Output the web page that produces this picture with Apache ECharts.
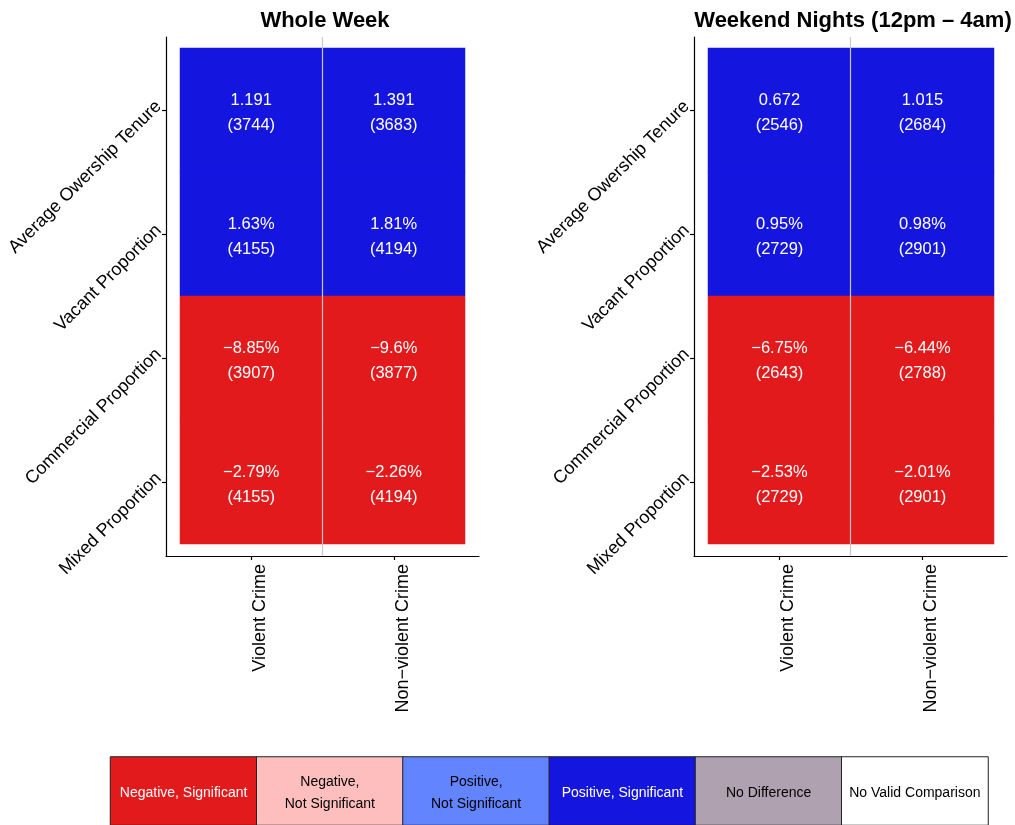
<!DOCTYPE html>
<html>
<head>
<meta charset="utf-8">
<title>Land use vs crime</title>
<script src="https://cdn.jsdelivr.net/npm/echarts@6/dist/echarts.min.js"></script>
<style>
html, body { margin: 0; padding: 0; background: #fff; }
#chart { width: 1015px; height: 825px; }
</style>
</head>
<body>
<div id="chart"></div>
<script>
var rowNames = ['Average Owership Tenure', 'Vacant Proportion', 'Commercial Proportion', 'Mixed Proportion'];
var colNames = ['Violent Crime', 'Non\u2212violent Crime'];
var panelTitles = ['Whole Week', 'Weekend Nights (12pm \u2013 4am)'];

// tile text per row: [violent, non-violent]
var weekEstimates = [['1.191', '1.391'], ['1.63%', '1.81%'], ['\u22128.85%', '\u22129.6%'], ['\u22122.79%', '\u22122.26%']];
var weekCounts = [[3744, 3683], [4155, 4194], [3907, 3877], [4155, 4194]];
var weekStatus = [[3, 3], [3, 3], [0, 0], [0, 0]];

var nightEstimates = [['0.672', '1.015'], ['0.95%', '0.98%'], ['\u22126.75%', '\u22126.44%'], ['\u22122.53%', '\u22122.01%']];
var nightCounts = [[2546, 2684], [2729, 2901], [2643, 2788], [2729, 2901]];
var nightStatus = [[3, 3], [3, 3], [0, 0], [0, 0]];

// status index -> legend entry
var statusNames = ['Negative, Significant', 'Negative,\nNot Significant', 'Positive,\nNot Significant',
  'Positive, Significant', 'No Difference', 'No Valid Comparison'];
var statusColors = ['#E31A1C', '#FFBEBE', '#6384FF', '#1515E0', '#B0A1B0', '#FFFFFF'];
var statusTextColors = ['#fff', '#000', '#000', '#fff', '#000', '#000'];

var font = 'Liberation Sans, Arial, sans-serif';

function tiles(est, counts, status) {
  var out = [];
  for (var r = 0; r < rowNames.length; r++) {
    for (var c = 0; c < colNames.length; c++) {
      var s = status[r][c];
      out.push({
        value: [c, r, s],
        label: { formatter: est[r][c] + '\n(' + counts[r][c] + ')', color: statusTextColors[s] },
        itemStyle: { color: statusColors[s] }
      });
    }
  }
  return out;
}

var legendData = statusNames.map(function (n, i) {
  return {
    value: [i, 0, i],
    itemStyle: { color: statusColors[i] },
    label: { color: statusTextColors[i] }
  };
});

function outerX(g) {
  return {
    type: 'category', gridIndex: g, data: colNames, z: 5,
    axisLine: { onZero: false, lineStyle: { color: '#000', width: 1.2 } },
    axisTick: { show: false }, axisLabel: { show: false },
    splitLine: { show: true, lineStyle: { color: ['rgba(0,0,0,0)', '#C8C8C8'], width: 1.2 } }
  };
}
function outerY(g) {
  return {
    type: 'value', gridIndex: g, min: 0, max: 1, z: 5,
    axisLine: { show: true, onZero: false, lineStyle: { color: '#000', width: 1.2 } },
    axisTick: { show: false }, axisLabel: { show: false }, splitLine: { show: false }
  };
}
function innerX(g) {
  return {
    type: 'category', gridIndex: g, data: colNames, offset: 12,
    axisLine: { show: false },
    axisTick: { show: true, alignWithLabel: true, length: 4, lineStyle: { color: '#000', width: 1.2 } },
    axisLabel: { rotate: 90, fontSize: 18, color: '#000', margin: 8, verticalAlign: 'top', fontFamily: font },
    splitLine: { show: false }
  };
}
function innerY(g) {
  return {
    type: 'category', gridIndex: g, data: rowNames, inverse: true, offset: 14,
    axisLine: { show: false },
    axisTick: { show: true, alignWithLabel: true, length: 4, lineStyle: { color: '#000', width: 1.2 } },
    axisLabel: { rotate: 45, fontSize: 18, color: '#000', margin: 1, verticalAlign: 'bottom', fontFamily: font },
    splitLine: { show: false }
  };
}
function tileSeries(axisIdx, data) {
  return {
    type: 'heatmap', xAxisIndex: axisIdx, yAxisIndex: axisIdx, data: data,
    label: { show: true, fontSize: 16.5, lineHeight: 25, offset: [0, 3], fontFamily: font },
    emphasis: { disabled: true }
  };
}

var chart = echarts.init(document.getElementById('chart'));
chart.setOption({
  animation: false,
  backgroundColor: '#fff',
  textStyle: { fontFamily: font },
  title: [
    { text: panelTitles[0], left: 320, top: 5, textAlign: 'center',
      textStyle: { fontSize: 22, fontWeight: 'bold', color: '#000', fontFamily: font } },
    { text: panelTitles[1], left: 848, top: 5, textAlign: 'center',
      textStyle: { fontSize: 22, fontWeight: 'bold', color: '#000', fontFamily: font } }
  ],
  grid: [
    { left: 166, top: 37, width: 313, height: 519 },
    { left: 180, top: 48, width: 285, height: 496 },
    { left: 694, top: 37, width: 313, height: 519 },
    { left: 708, top: 48, width: 286, height: 496 },
    { left: 110.5, top: 757, width: 877.5, height: 70 }
  ],
  xAxis: [
    outerX(0), innerX(1), outerX(2), innerX(3),
    { type: 'category', gridIndex: 4, data: statusNames, show: false }
  ],
  yAxis: [
    outerY(0), innerY(1), outerY(2), innerY(3),
    { type: 'category', gridIndex: 4, data: [''], show: false }
  ],
  series: [
    tileSeries(1, tiles(weekEstimates, weekCounts, weekStatus)),
    tileSeries(3, tiles(nightEstimates, nightCounts, nightStatus)),
    {
      type: 'heatmap', xAxisIndex: 4, yAxisIndex: 4, data: legendData,
      itemStyle: { borderColor: '#222', borderWidth: 1 },
      label: {
        show: true, fontSize: 14, lineHeight: 22, offset: [0, 2], fontFamily: font,
        formatter: function (p) { return statusNames[p.value[0]]; }
      },
      emphasis: { disabled: true }
    }
  ]
});
</script>
</body>
</html>
